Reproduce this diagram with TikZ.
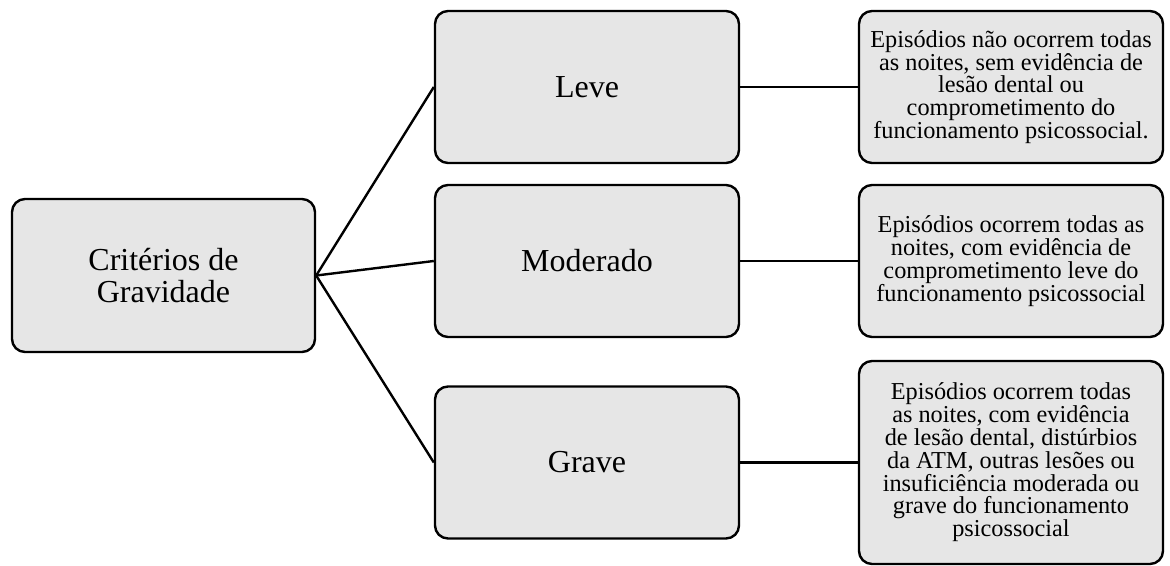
\documentclass[tikz,border=0pt]{standalone}
\usepackage{fontspec}
\setmainfont{Liberation Serif}
\definecolor{boxgray}{HTML}{E6E6E6}
\begin{document}
\begin{tikzpicture}[x=1pt,y=1pt,
  box/.style={draw=black, line width=2.4pt, fill=boxgray, rounded corners=13pt,
    minimum width=304pt, minimum height=152pt, inner sep=2pt, align=center},
  bigtext/.style={font=\fontsize{32}{32.5}\selectfont},
  smalltext/.style={font=\fontsize{24.3}{22.8}\selectfont},
  conn/.style={draw=black, line width=2.4pt}]
\useasboundingbox (0,0) rectangle (1170,-565);
\node[box, bigtext, minimum width=303pt, minimum height=153pt] (root) at (163.5,-275.5) {Critérios de\\Gravidade};
\node[box, bigtext] (leve) at (587,-87) {Leve};
\node[box, bigtext] (mod) at (587,-261) {Moderado};
\node[box, bigtext] (grave) at (587,-462.5) {Grave};
\node[box, smalltext] (r1) at (1011,-87) {Episódios não ocorrem todas\\as noites, sem evidência de\\lesão dental ou\\comprometimento do\\funcionamento psicossocial.};
\node[box, smalltext] (r2) at (1011,-261) {Episódios ocorrem todas as\\noites, com evidência de\\comprometimento leve do\\funcionamento psicossocial};
\node[box, smalltext, minimum height=203pt] (r3) at (1011,-462.5) {Episódios ocorrem todas\\as noites, com evidência\\de lesão dental, distúrbios\\da ATM, outras lesões ou\\insuficiência moderada ou\\grave do funcionamento\\psicossocial};
\draw[conn] (root.east) -- (leve.west);
\draw[conn] (root.east) -- (mod.west);
\draw[conn] (root.east) -- (grave.west);
\draw[conn] (leve.east) -- (r1.west);
\draw[conn] (mod.east) -- (r2.west);
\draw[conn] (grave.east) -- (r3.west);
\end{tikzpicture}
\end{document}
